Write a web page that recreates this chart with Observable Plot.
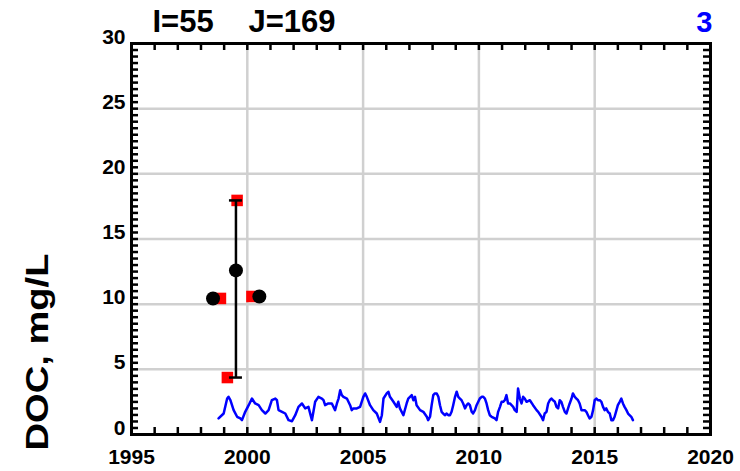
<!DOCTYPE html>
<html>
<head>
<meta charset="utf-8">
<script src="https://cdn.jsdelivr.net/npm/d3@7"></script>
<script src="https://cdn.jsdelivr.net/npm/@observablehq/plot@0.6"></script>
<style>
  html, body { margin: 0; padding: 0; background: white; }
  svg { display: block; }
</style>
</head>
<body>
<script>
// ---- data ----
const docYears = [
  1998.76, 1998.98, 1999.13, 1999.19, 1999.27, 1999.41, 1999.56, 1999.70, 1999.77, 1999.91,
  2000.06, 2000.20, 2000.34, 2000.49, 2000.63, 2000.78, 2000.92, 2001.06, 2001.21, 2001.28,
  2001.35, 2001.50, 2001.64, 2001.78, 2001.93, 2002.07, 2002.21, 2002.36, 2002.50, 2002.64,
  2002.79, 2002.93, 2003.07, 2003.22, 2003.29, 2003.36, 2003.50, 2003.65, 2003.79, 2003.87,
  2003.94, 2004.01, 2004.08, 2004.15, 2004.30, 2004.44, 2004.51, 2004.58, 2004.73, 2004.87,
  2004.94, 2005.01, 2005.09, 2005.16, 2005.30, 2005.44, 2005.59, 2005.73, 2005.81, 2005.88,
  2006.02, 2006.09, 2006.16, 2006.31, 2006.45, 2006.52, 2006.59, 2006.74, 2006.88, 2006.95,
  2007.10, 2007.17, 2007.24, 2007.31, 2007.46, 2007.60, 2007.75, 2007.81, 2007.89, 2007.96,
  2008.03, 2008.10, 2008.18, 2008.25, 2008.32, 2008.39, 2008.46, 2008.53, 2008.61, 2008.68,
  2008.75, 2008.82, 2008.89, 2008.97, 2009.04, 2009.11, 2009.18, 2009.25, 2009.32, 2009.40,
  2009.47, 2009.54, 2009.61, 2009.69, 2009.75, 2009.83, 2009.90, 2010.04, 2010.12, 2010.19,
  2010.26, 2010.33, 2010.40, 2010.47, 2010.55, 2010.69, 2010.76, 2010.83, 2010.91, 2010.98,
  2011.05, 2011.12, 2011.19, 2011.26, 2011.34, 2011.48, 2011.55, 2011.63, 2011.69, 2011.77,
  2011.84, 2011.91, 2011.98, 2012.06, 2012.20, 2012.34, 2012.49, 2012.56, 2012.70, 2012.77,
  2012.84, 2012.92, 2012.99, 2013.06, 2013.13, 2013.20, 2013.28, 2013.35, 2013.42, 2013.49,
  2013.56, 2013.63, 2013.71, 2013.78, 2013.85, 2013.92, 2014.00, 2014.06, 2014.14, 2014.21,
  2014.28, 2014.35, 2014.43, 2014.50, 2014.57, 2014.64, 2014.71, 2014.78, 2014.86, 2014.93,
  2015.00, 2015.07, 2015.14, 2015.22, 2015.29, 2015.36, 2015.43, 2015.50, 2015.57, 2015.65,
  2015.72, 2015.79, 2015.86, 2015.94, 2016.00, 2016.08, 2016.15, 2016.22, 2016.29, 2016.37,
  2016.44, 2016.58, 2016.65
];
const docValues = [
  1.23, 1.61, 2.76, 2.89, 2.63, 1.87, 1.36, 1.23, 1.10, 1.74,
  2.25, 2.76, 2.38, 2.25, 1.87, 1.61, 1.87, 2.63, 2.76, 2.63,
  1.87, 1.74, 1.61, 1.10, 1.02, 1.48, 2.12, 2.38, 2.00, 2.12,
  1.10, 2.51, 2.89, 2.76, 2.63, 2.25, 2.38, 2.38, 1.87, 2.38,
  2.76, 3.40, 3.02, 2.89, 2.76, 2.25, 1.87, 2.00, 2.00, 2.12,
  2.51, 2.89, 3.15, 2.89, 2.25, 1.87, 1.61, 0.97, 1.48, 2.76,
  3.15, 3.28, 2.89, 2.51, 2.12, 2.51, 2.00, 1.48, 2.38, 2.76,
  3.02, 2.63, 2.89, 2.25, 1.87, 1.74, 1.36, 1.10, 1.36, 2.25,
  3.02, 3.15, 3.15, 2.89, 2.25, 1.74, 1.61, 1.48, 1.61, 1.48,
  1.48, 1.74, 2.25, 2.89, 3.28, 2.89, 2.76, 2.63, 2.38, 2.00,
  2.25, 2.38, 2.25, 1.74, 1.61, 1.87, 2.25, 2.76, 2.89, 2.89,
  2.76, 2.38, 1.87, 1.48, 1.36, 1.23, 1.10, 1.74, 2.12, 2.51,
  2.51, 2.63, 3.02, 2.38, 2.38, 2.12, 1.87, 1.74, 3.53, 2.76,
  2.38, 2.89, 2.76, 2.51, 2.63, 2.25, 1.87, 1.74, 1.36, 1.10,
  1.61, 1.74, 2.38, 2.63, 2.76, 2.63, 2.51, 2.12, 2.00, 2.63,
  2.51, 2.12, 1.74, 1.61, 2.00, 2.38, 2.76, 3.15, 2.89, 2.76,
  2.63, 2.38, 1.87, 1.87, 1.87, 1.74, 1.48, 1.23, 1.36, 1.87,
  2.63, 2.76, 2.63, 2.63, 2.51, 2.12, 1.87, 2.00, 1.74, 1.61,
  1.10, 1.10, 1.36, 1.87, 2.25, 2.51, 2.76, 2.38, 2.12, 1.87,
  1.61, 1.36, 1.10
];
// red squares (observations)
const obsYears = [1998.84, 1999.56, 1999.14, 2000.20];
const obsValues = [10.44, 17.96, 4.37, 10.59];
// black circles (means)
const meanYears = [1998.52, 1999.51, 2000.52];
const meanValues = [10.44, 12.59, 10.59];
// error bar
const errYears = [1999.51];
const errLow = [4.37];
const errHigh = [17.96];
// axes
const xTickLabels = [1995, 2000, 2005, 2010, 2015, 2020];
const yTickLabels = [0, 5, 10, 15, 20, 25, 30];
const xMinorTicks = [1995,1996,1997,1998,1999,2000,2001,2002,2003,2004,2005,2006,2007,2008,2009,2010,2011,2012,2013,2014,2015,2016,2017,2018,2019,2020];
const yMinorTicks = d3.range(0, 30.001, 0.5);
const xGrid = [2000, 2005, 2010, 2015];
const yGrid = [5, 10, 15, 20, 25];
const titleLeft = "I=55";
const titleMid = "J=169";
const titleRight = "3";
const yLabel = "DOC, mg/L";

// ---- build ----
const line = docYears.map((x, i) => ({x, y: docValues[i]}));
const obs = obsYears.map((x, i) => ({x, y: obsValues[i]}));
const means = meanYears.map((x, i) => ({x, y: meanValues[i]}));
const errs = errYears.map((x, i) => ({x, lo: errLow[i], hi: errHigh[i]}));

const W = 740, H = 471, mL = 131, mR = 30, mT = 43, mB = 37;
const xDom = [1995, 2020], yDom = [0, 30];
const tlY = 7 * (yDom[1] - yDom[0]) / (H - mT - mB);
const tlX = 7 * (xDom[1] - xDom[0]) / (W - mL - mR);
const capX = 6.5 * (xDom[1] - xDom[0]) / (W - mL - mR);

const bold = {fontWeight: "bold", fill: "black"};

const chart = Plot.plot({
  width: W, height: H,
  marginLeft: mL, marginRight: mR, marginTop: mT, marginBottom: mB,
  x: {domain: xDom, axis: null},
  y: {domain: yDom, axis: null},
  style: {fontFamily: "'Liberation Sans', Arial, Helvetica, sans-serif", background: "white", overflow: "visible"},
  marks: [
    Plot.ruleX(xGrid, {x: d => d, stroke: "#d0d0d0", strokeWidth: 2.5}),
    Plot.ruleY(yGrid, {y: d => d, stroke: "#d0d0d0", strokeWidth: 2.5}),
    Plot.line(line, {x: "x", y: "y", stroke: "#0000ff", strokeWidth: 2.5, strokeLinejoin: "round"}),
    Plot.dot(obs, {x: "x", y: "y", symbol: "square", r: 6.5, fill: "#ff0000", stroke: "none"}),
    Plot.ruleX(errs, {x: "x", y1: "lo", y2: "hi", stroke: "black", strokeWidth: 2.5}),
    Plot.ruleY(errs, {y: "lo", x1: d => d.x - capX, x2: d => d.x + capX, stroke: "black", strokeWidth: 2.5}),
    Plot.ruleY(errs, {y: "hi", x1: d => d.x - capX, x2: d => d.x + capX, stroke: "black", strokeWidth: 2.5}),
    Plot.dot(means, {x: "x", y: "y", r: 7, fill: "black", stroke: "none"}),
    Plot.frame({stroke: "black", strokeWidth: 3}),
    // ticks (inward)
    Plot.ruleX(xMinorTicks, {x: d => d, y1: yDom[0], y2: yDom[0] + tlY, stroke: "black", strokeWidth: 2.5}),
    Plot.ruleX(xMinorTicks, {x: d => d, y1: yDom[1] - tlY, y2: yDom[1], stroke: "black", strokeWidth: 2.5}),
    Plot.ruleY(yMinorTicks, {y: d => d, x1: xDom[0], x2: xDom[0] + tlX, stroke: "black", strokeWidth: 2.5}),
    Plot.ruleY(yMinorTicks, {y: d => d, x1: xDom[1] - tlX, x2: xDom[1], stroke: "black", strokeWidth: 2.5}),
    // tick labels
    Plot.text(xTickLabels, {x: d => d, y: yDom[0], text: d => String(d), dy: 29, lineAnchor: "bottom", fontSize: 21, ...bold}),
    Plot.text(yTickLabels, {x: xDom[0], y: d => d, text: d => String(d), dx: -6, textAnchor: "end", lineAnchor: "bottom", fontSize: 21, ...bold}),
    // titles
    Plot.text([titleLeft], {frameAnchor: "top-left", text: d => d, dx: 21, dy: -12, textAnchor: "start", lineAnchor: "bottom", fontSize: 31, ...bold}),
    Plot.text([titleMid], {frameAnchor: "top-left", text: d => d, dx: 117, dy: -12, textAnchor: "start", lineAnchor: "bottom", fontSize: 31, ...bold}),
    Plot.text([titleRight], {frameAnchor: "top-right", text: d => d, dx: 2, dy: -12, textAnchor: "end", lineAnchor: "bottom", fontSize: 29, fontWeight: "bold", fill: "#0000ff"}),
    // y label
    Plot.text([yLabel], {frameAnchor: "bottom-left", text: d => d, rotate: -90, dx: -84, dy: -82.5, textAnchor: "middle", lineAnchor: "bottom", fontSize: 31, ...bold})
  ]
});

// stretch the y label along its length like the reference
d3.select(chart).selectAll("text").filter(function() { return this.textContent === yLabel; })
  .each(function() {
    const t = this.getAttribute("transform") || "";
    this.setAttribute("transform", t + " scale(1.23,1)");
  });

document.body.appendChild(chart);
</script>
</body>
</html>
